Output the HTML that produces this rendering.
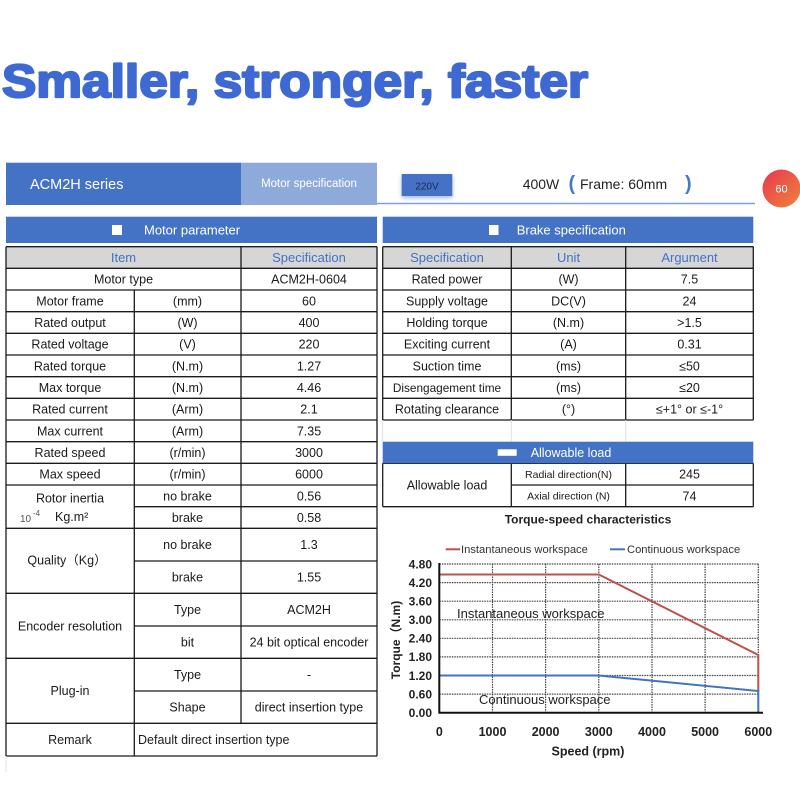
<!DOCTYPE html>
<html>
<head>
<meta charset="utf-8">
<style>
html,body{margin:0;padding:0;background:#fff;}
svg{display:block;}
text{font-family:"Liberation Sans","DejaVu Sans",sans-serif;}
</style>
</head>
<body>
<svg width="800" height="800" viewBox="0 0 800 800" xmlns="http://www.w3.org/2000/svg">
<defs>
<linearGradient id="cg" x1="0" y1="0" x2="1" y2="1">
<stop offset="0" stop-color="#e8364f"/>
<stop offset="1" stop-color="#f0843a"/>
</linearGradient>
<filter id="sh" x="-30%" y="-30%" width="160%" height="180%">
<feGaussianBlur in="SourceAlpha" stdDeviation="2"/>
<feOffset dx="0" dy="2" result="b"/>
<feFlood flood-color="#4472c4" flood-opacity="0.5"/>
<feComposite in2="b" operator="in"/>
<feMerge><feMergeNode/><feMergeNode in="SourceGraphic"/></feMerge>
</filter>
</defs>

<!-- Title -->
<text x="2" y="97" font-size="46" font-weight="bold" fill="#3e69d3" stroke="#3e69d3" stroke-width="2.2" stroke-linejoin="round" textLength="586" lengthAdjust="spacingAndGlyphs">Smaller, stronger, faster</text>

<!-- Header band -->
<rect x="6" y="162.7" width="235" height="42.3" fill="#4472c4"/>
<rect x="241" y="162.7" width="136" height="42.3" fill="#8eaadb"/>
<text x="30" y="189" font-size="14.5" fill="#fff">ACM2H series</text>
<text x="309" y="187" font-size="11.5" fill="#fff" text-anchor="middle">Motor specification</text>

<line x1="377" y1="203.5" x2="755" y2="203.5" stroke="#7f9fd8" stroke-width="1.5"/>
<rect x="401.7" y="174" width="50.6" height="22" fill="#4472c4" filter="url(#sh)"/>
<text x="427" y="189.5" font-size="10" fill="#1c2a55" text-anchor="middle">220V</text>
<text x="522.7" y="189" font-size="14" fill="#222">400W</text>
<text x="568.5" y="190" font-size="20" font-weight="bold" fill="#4a78c8">(</text>
<text x="580" y="189" font-size="14" fill="#222">Frame: 60mm</text>
<text x="685" y="190" font-size="20" font-weight="bold" fill="#4a78c8">)</text>

<circle cx="781.5" cy="188.5" r="19" fill="url(#cg)"/>
<text x="781.5" y="192.5" font-size="11" fill="#fff" text-anchor="middle">60</text>

<!-- Motor parameter band -->
<rect x="6" y="216.7" width="371" height="26.3" fill="#4472c4"/>
<rect x="112" y="225" width="10" height="10" fill="#fff"/>
<text x="144" y="234.5" font-size="13" fill="#fff">Motor parameter</text>

<!-- Brake spec band -->
<rect x="382.7" y="216.7" width="370.6" height="26.3" fill="#4472c4"/>
<rect x="489" y="225" width="9.5" height="10" fill="#fff"/>
<text x="516.7" y="234.5" font-size="13" fill="#fff">Brake specification</text>

<!-- Gray header rows -->
<rect x="6" y="246.7" width="371" height="21.6" fill="#d6d6d6"/>
<rect x="382.7" y="246.7" width="370.6" height="21.6" fill="#d6d6d6"/>

<!-- Left table lines -->
<g stroke="#1a1a1a" stroke-width="1.3" fill="none">
<line x1="6" y1="246.7" x2="6" y2="756"/>
<line x1="377" y1="246.7" x2="377" y2="756"/>
<line x1="241" y1="246.7" x2="241" y2="723.3"/>
<line x1="134.3" y1="290" x2="134.3" y2="756"/>
<line x1="6" y1="246.7" x2="377" y2="246.7"/>
<line x1="6" y1="268.3" x2="377" y2="268.3"/>
<line x1="6" y1="290" x2="377" y2="290"/>
<line x1="6" y1="311.7" x2="377" y2="311.7"/>
<line x1="6" y1="333.3" x2="377" y2="333.3"/>
<line x1="6" y1="355" x2="377" y2="355"/>
<line x1="6" y1="376.7" x2="377" y2="376.7"/>
<line x1="6" y1="398.3" x2="377" y2="398.3"/>
<line x1="6" y1="420" x2="377" y2="420"/>
<line x1="6" y1="441.7" x2="377" y2="441.7"/>
<line x1="6" y1="463.3" x2="377" y2="463.3"/>
<line x1="6" y1="485" x2="377" y2="485"/>
<line x1="6" y1="528.3" x2="377" y2="528.3"/>
<line x1="6" y1="593.3" x2="377" y2="593.3"/>
<line x1="6" y1="658.3" x2="377" y2="658.3"/>
<line x1="6" y1="723.3" x2="377" y2="723.3"/>
<line x1="6" y1="756" x2="377" y2="756"/>
<line x1="134.3" y1="506.7" x2="377" y2="506.7"/>
<line x1="134.3" y1="561" x2="377" y2="561"/>
<line x1="134.3" y1="626" x2="377" y2="626"/>
<line x1="134.3" y1="691" x2="377" y2="691"/>
</g>
<line x1="6" y1="756" x2="6" y2="772" stroke="#e2e2e2" stroke-width="1"/>

<!-- Left table text -->
<g font-size="12.5" fill="#1a1a1a" text-anchor="middle">
<text x="123.5" y="262" font-size="13" fill="#4472c4">Item</text>
<text x="309" y="262" font-size="13" fill="#4472c4">Specification</text>
<text x="123.5" y="283.7">Motor type</text><text x="309" y="283.7">ACM2H-0604</text>
<text x="70" y="305.3">Motor frame</text><text x="187.5" y="305.3">(mm)</text><text x="309" y="305.3">60</text>
<text x="70" y="327">Rated output</text><text x="187.5" y="327">(W)</text><text x="309" y="327">400</text>
<text x="70" y="348.6">Rated voltage</text><text x="187.5" y="348.6">(V)</text><text x="309" y="348.6">220</text>
<text x="70" y="370.3">Rated torque</text><text x="187.5" y="370.3">(N.m)</text><text x="309" y="370.3">1.27</text>
<text x="70" y="392">Max torque</text><text x="187.5" y="392">(N.m)</text><text x="309" y="392">4.46</text>
<text x="70" y="413.6">Rated current</text><text x="187.5" y="413.6">(Arm)</text><text x="309" y="413.6">2.1</text>
<text x="70" y="435.3">Max current</text><text x="187.5" y="435.3">(Arm)</text><text x="309" y="435.3">7.35</text>
<text x="70" y="457">Rated speed</text><text x="187.5" y="457">(r/min)</text><text x="309" y="457">3000</text>
<text x="70" y="478.6">Max speed</text><text x="187.5" y="478.6">(r/min)</text><text x="309" y="478.6">6000</text>
<text x="70" y="502.5">Rotor inertia</text><text x="187.5" y="500.3">no brake</text><text x="309" y="500.3">0.56</text>
<text x="187.5" y="522">brake</text><text x="309" y="522">0.58</text>
<text x="67" y="564.5">Quality（Kg）</text><text x="187.5" y="549">no brake</text><text x="309" y="549">1.3</text>
<text x="187.5" y="581.5">brake</text><text x="309" y="581.5">1.55</text>
<text x="70" y="630.5">Encoder resolution</text><text x="187.5" y="614">Type</text><text x="309" y="614">ACM2H</text>
<text x="187.5" y="646.5">bit</text><text x="309" y="646.5">24 bit optical encoder</text>
<text x="70" y="695">Plug-in</text><text x="187.5" y="679">Type</text><text x="309" y="679">-</text>
<text x="187.5" y="711.5">Shape</text><text x="309" y="711.5">direct insertion type</text>
<text x="70" y="744">Remark</text>
<text x="138" y="744" text-anchor="start">Default direct insertion type</text>
</g>
<text x="20" y="522" font-size="10" fill="#555">10</text>
<text x="33" y="516" font-size="8" fill="#555">-4</text>
<text x="55" y="521" font-size="12.5" fill="#1a1a1a">Kg.m²</text>

<!-- Right table lines -->
<g stroke="#1a1a1a" stroke-width="1.3" fill="none">
<line x1="382.7" y1="246.7" x2="382.7" y2="420"/>
<line x1="511.3" y1="246.7" x2="511.3" y2="420"/>
<line x1="625.7" y1="246.7" x2="625.7" y2="420"/>
<line x1="753.3" y1="246.7" x2="753.3" y2="420"/>
<line x1="382.7" y1="246.7" x2="753.3" y2="246.7"/>
<line x1="382.7" y1="268.3" x2="753.3" y2="268.3"/>
<line x1="382.7" y1="290" x2="753.3" y2="290"/>
<line x1="382.7" y1="311.7" x2="753.3" y2="311.7"/>
<line x1="382.7" y1="333.3" x2="753.3" y2="333.3"/>
<line x1="382.7" y1="355" x2="753.3" y2="355"/>
<line x1="382.7" y1="376.7" x2="753.3" y2="376.7"/>
<line x1="382.7" y1="398.3" x2="753.3" y2="398.3"/>
<line x1="382.7" y1="420" x2="753.3" y2="420"/>
<line x1="382.7" y1="463.3" x2="382.7" y2="506.7"/>
<line x1="511.3" y1="463.3" x2="511.3" y2="506.7"/>
<line x1="625.7" y1="463.3" x2="625.7" y2="506.7"/>
<line x1="753.3" y1="463.3" x2="753.3" y2="506.7"/>
<line x1="382.7" y1="463.3" x2="753.3" y2="463.3"/>
<line x1="382.7" y1="506.7" x2="753.3" y2="506.7"/>
<line x1="511.3" y1="485" x2="753.3" y2="485"/>
</g>
<g stroke="#e0e0e0" stroke-width="1">
<line x1="382.7" y1="420" x2="382.7" y2="441.7"/>
<line x1="511.3" y1="420" x2="511.3" y2="441.7"/>
<line x1="625.7" y1="420" x2="625.7" y2="441.7"/>
</g>

<!-- Allowable load band -->
<rect x="382.7" y="441.7" width="370.6" height="21.6" fill="#4472c4"/>
<rect x="497.7" y="449.3" width="19" height="6.5" fill="#fff"/>
<text x="530.7" y="457" font-size="12.5" fill="#fff">Allowable load</text>

<!-- Right table text -->
<g font-size="12.5" fill="#1a1a1a" text-anchor="middle">
<text x="447" y="262" font-size="13" fill="#4472c4">Specification</text>
<text x="568.5" y="262" font-size="13" fill="#4472c4">Unit</text>
<text x="689.5" y="262" font-size="13" fill="#4472c4">Argument</text>
<text x="447" y="283.7">Rated power</text><text x="568.5" y="283.7">(W)</text><text x="689.5" y="283.7">7.5</text>
<text x="447" y="305.3">Supply voltage</text><text x="568.5" y="305.3">DC(V)</text><text x="689.5" y="305.3">24</text>
<text x="447" y="327">Holding torque</text><text x="568.5" y="327">(N.m)</text><text x="689.5" y="327">&gt;1.5</text>
<text x="447" y="348.6">Exciting current</text><text x="568.5" y="348.6">(A)</text><text x="689.5" y="348.6">0.31</text>
<text x="447" y="370.3">Suction time</text><text x="568.5" y="370.3">(ms)</text><text x="689.5" y="370.3">≤50</text>
<text x="447" y="392" font-size="11.8">Disengagement time</text><text x="568.5" y="392">(ms)</text><text x="689.5" y="392">≤20</text>
<text x="447" y="413.6">Rotating clearance</text><text x="568.5" y="413.6">(°)</text><text x="689.5" y="413.6">≤+1° or ≤-1°</text>
<text x="447" y="489.5">Allowable load</text>
<text x="568.5" y="478" font-size="10.5">Radial direction(N)</text><text x="689.5" y="478.6">245</text>
<text x="568.5" y="499.5" font-size="10.5">Axial direction (N)</text><text x="689.5" y="500.3">74</text>
</g>

<!-- Chart -->
<text x="588" y="523.5" font-size="12" font-weight="bold" fill="#222" text-anchor="middle">Torque-speed characteristics</text>

<line x1="445.7" y1="549.3" x2="460" y2="549.3" stroke="#c0504d" stroke-width="2"/>
<text x="461" y="553" font-size="11.2" fill="#333">Instantaneous workspace</text>
<line x1="610" y1="549.3" x2="625" y2="549.3" stroke="#4472c4" stroke-width="2"/>
<text x="627" y="553" font-size="11.2" fill="#333">Continuous workspace</text>

<g stroke="#444" stroke-width="1.2" stroke-dasharray="1.5,1">
<line x1="439.3" y1="564" x2="758.3" y2="564"/>
<line x1="439.3" y1="582.6" x2="758.3" y2="582.6"/>
<line x1="439.3" y1="601.2" x2="758.3" y2="601.2"/>
<line x1="439.3" y1="619.8" x2="758.3" y2="619.8"/>
<line x1="439.3" y1="638.3" x2="758.3" y2="638.3"/>
<line x1="439.3" y1="656.9" x2="758.3" y2="656.9"/>
<line x1="439.3" y1="675.5" x2="758.3" y2="675.5"/>
<line x1="439.3" y1="694.1" x2="758.3" y2="694.1"/>
<line x1="492.5" y1="564" x2="492.5" y2="712.7"/>
<line x1="545.6" y1="564" x2="545.6" y2="712.7"/>
<line x1="598.8" y1="564" x2="598.8" y2="712.7"/>
<line x1="652" y1="564" x2="652" y2="712.7"/>
<line x1="705.1" y1="564" x2="705.1" y2="712.7"/>
<line x1="758.3" y1="564" x2="758.3" y2="712.7"/>
</g>

<polyline points="439.3,574.5 598.8,574.5 758.3,655 758.3,691.5" fill="none" stroke="#c0504d" stroke-width="2"/>
<polyline points="439.3,675.5 598.8,675.5 758.3,691 758.3,712.7" fill="none" stroke="#4472c4" stroke-width="2"/>

<line x1="439.3" y1="563" x2="439.3" y2="713.5" stroke="#111" stroke-width="2"/>
<line x1="438.5" y1="712.7" x2="763" y2="712.7" stroke="#111" stroke-width="2"/>

<g font-size="12" font-weight="bold" fill="#222" text-anchor="end">
<text x="432" y="568.3">4.80</text>
<text x="432" y="586.9">4.20</text>
<text x="432" y="605.5">3.60</text>
<text x="432" y="624.1">3.00</text>
<text x="432" y="642.6">2.40</text>
<text x="432" y="661.2">1.80</text>
<text x="432" y="679.8">1.20</text>
<text x="432" y="698.4">0.60</text>
<text x="432" y="717">0.00</text>
</g>
<g font-size="12.5" font-weight="bold" fill="#222" text-anchor="middle">
<text x="439.3" y="736">0</text>
<text x="492.5" y="736">1000</text>
<text x="545.6" y="736">2000</text>
<text x="598.8" y="736">3000</text>
<text x="652" y="736">4000</text>
<text x="705.1" y="736">5000</text>
<text x="758.3" y="736">6000</text>
<text x="588" y="755.5">Speed (rpm)</text>
</g>
<text transform="translate(400,640) rotate(-90)" font-size="12" font-weight="bold" fill="#222" text-anchor="middle">Torque（N.m)</text>

<text x="457" y="618" font-size="13" fill="#222">Instantaneous workspace</text>
<text x="479" y="704" font-size="13" fill="#222">Continuous workspace</text>
</svg>
</body>
</html>
